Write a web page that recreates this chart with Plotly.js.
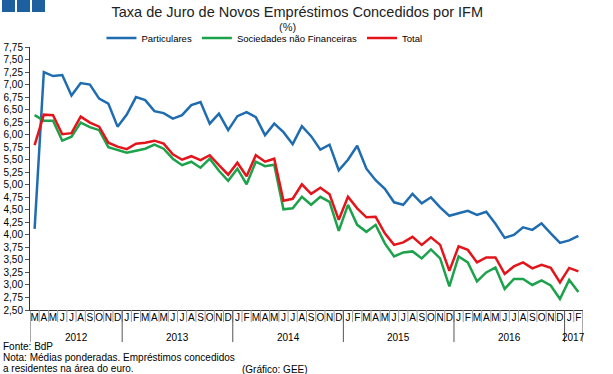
<!DOCTYPE html>
<html>
<head>
<meta charset="utf-8">
<script src="https://cdn.plot.ly/plotly-3.0.1.min.js"></script>
<style>
  html, body { margin:0; padding:0; background:#fff; }
  #wrap { position:relative; width:613px; height:374px; }
  #chart { position:absolute; left:0; top:0; width:613px; height:374px; }
  .sq { position:absolute; top:0; width:13px; height:12px; background:#1d5f9f; }
  .foot { position:absolute; font-family:"Liberation Sans", Arial, sans-serif; font-size:10px; color:#000; white-space:nowrap; }
</style>
</head>
<body>
<div id="wrap">
  <div id="chart"></div>
  <div class="sq" style="left:2px"></div>
  <div class="sq" style="left:17px"></div>
  <div class="sq" style="left:32px"></div>
  <div class="foot" style="left:3px; top:341px;">Fonte: BdP</div>
  <div class="foot" style="left:3px; top:352px;">Nota: Médias ponderadas. Empréstimos concedidos</div>
  <div class="foot" style="left:3px; top:363px;">a residentes na área do euro.</div>
  <div class="foot" style="left:242px; top:364px;">(Gráfico: GEE)</div>
</div>
<script>
// Months Mar 2012 .. Feb 2017
const years = [
  "2012","2012","2012","2012","2012","2012","2012","2012","2012","2012",
  "2013","2013","2013","2013","2013","2013","2013","2013","2013","2013","2013","2013",
  "2014","2014","2014","2014","2014","2014","2014","2014","2014","2014","2014","2014",
  "2015","2015","2015","2015","2015","2015","2015","2015","2015","2015","2015","2015",
  "2016","2016","2016","2016","2016","2016","2016","2016","2016","2016","2016","2016",
  "2017","2017"
];
const months = [
  "M","A","M","J","J","A","S","O","N","D",
  "J","F","M","A","M","J","J","A","S","O","N","D",
  "J","F","M","A","M","J","J","A","S","O","N","D",
  "J","F","M","A","M","J","J","A","S","O","N","D",
  "J","F","M","A","M","J","J","A","S","O","N","D",
  "J","F"
];

const particulares = [
  4.12,7.25,7.17,7.19,6.78,7.03,7.00,6.72,6.62,6.16,
  6.40,6.75,6.69,6.47,6.43,6.32,6.39,6.59,6.65,6.22,6.42,6.09,
  6.37,6.45,6.35,5.99,6.22,6.05,5.81,6.17,5.97,5.70,5.80,5.29,
  5.50,5.78,5.32,5.09,4.92,4.65,4.60,4.82,4.63,4.75,4.55,4.38,
  4.43,4.48,4.40,4.46,4.22,3.94,4.00,4.15,4.10,4.23,4.03,3.84,
  3.89,3.98
];
const sociedades = [
  6.39,6.28,6.28,5.88,5.96,6.24,6.15,6.09,5.75,5.70,
  5.64,5.68,5.72,5.80,5.72,5.52,5.39,5.46,5.34,5.52,5.28,5.08,
  5.32,5.01,5.46,5.37,5.40,4.51,4.53,4.76,4.60,4.76,4.66,4.08,
  4.60,4.20,4.06,4.20,3.83,3.57,3.65,3.67,3.53,3.71,3.53,2.97,
  3.57,3.45,3.07,3.25,3.35,2.92,3.12,3.12,3.00,3.09,2.99,2.72,
  3.10,2.86
];
const total = [
  5.79,6.40,6.39,6.01,6.03,6.36,6.24,6.16,5.84,5.76,
  5.71,5.82,5.84,5.88,5.82,5.61,5.50,5.57,5.49,5.59,5.39,5.20,
  5.44,5.17,5.59,5.46,5.52,4.68,4.72,5.01,4.82,4.94,4.81,4.30,
  4.76,4.53,4.35,4.36,4.03,3.80,3.85,3.96,3.80,3.95,3.80,3.28,
  3.77,3.70,3.45,3.55,3.55,3.22,3.37,3.45,3.33,3.40,3.34,3.05,
  3.34,3.27
];

// unique category keys, shown as month letters
const cats = years.map((y, i) => y + "-" + String(i).padStart(2, "0"));

const traces = [
  {x:cats, y:particulares, name:"Particulares", type:"scatter", mode:"lines",
   line:{color:"#1f6db0", width:2.5}},
  {x:cats, y:sociedades, name:"Sociedades não Financeiras", type:"scatter", mode:"lines",
   line:{color:"#1da24c", width:2.5}},
  {x:cats, y:total, name:"Total", type:"scatter", mode:"lines",
   line:{color:"#e3151b", width:2.5}}
];

// year groups -> label positions and dividers (category index units)
const groups = [];
years.forEach((y, i) => {
  const g = groups[groups.length - 1];
  if (g && g.year === y) g.end = i; else groups.push({year:y, start:i, end:i});
});
const FONT = "Liberation Sans, Arial, sans-serif";
const yearAnnotations = groups.map(g => ({
  text:g.year, xref:"x", yref:"paper", x:(g.start + g.end) / 2, y:-0.106,
  xanchor:"center", yanchor:"middle", showarrow:false,
  font:{family:FONT, size:10, color:"#000"}
}));
const bounds = [groups[0].start - 0.5].concat(groups.map(g => g.end + 0.5));
const dividers = bounds.map(b => ({
  type:"line", xref:"x", yref:"paper", x0:b, x1:b, y0:0, y1:-0.122,
  line:{color:"#555", width:1}
}));
// month separators between categories
const monthSeps = cats.slice(1).map((c, i) => ({
  type:"line", xref:"x", yref:"paper", x0:i + 0.5, x1:i + 0.5, y0:0, y1:-0.046,
  line:{color:"#9a9a9a", width:1}
}));

const layout = {
  width:613, height:374,
  margin:{l:30, r:30, t:47, b:64},
  paper_bgcolor:"rgba(0,0,0,0)", plot_bgcolor:"#fff",
  separators:", ",
  font:{family:FONT, size:10, color:"#000"},
  title:{text:"Taxa de Juro de Novos Empréstimos Concedidos por IFM",
         x:0.485, xanchor:"center", y:0.968, yanchor:"middle",
         font:{family:FONT, size:14.5, color:"#222"}},
  showlegend:true,
  legend:{orientation:"h", x:0.424, xanchor:"center", y:1.034, yanchor:"middle",
          font:{family:FONT, size:9.5}, itemwidth:30, tracegroupgap:0,
          bgcolor:"rgba(0,0,0,0)"},
  annotations:[{text:"(%)", xref:"paper", yref:"paper", x:0.466, y:1.075,
                xanchor:"center", yanchor:"middle", showarrow:false,
                font:{family:FONT, size:11, color:"#222"}}].concat(yearAnnotations),
  shapes:monthSeps.concat(dividers),
  xaxis:{type:"category", range:[-0.5, cats.length - 0.5],
         tickmode:"array", tickvals:cats, ticktext:months,
         showline:true, linecolor:"#333", linewidth:1,
         ticks:"", tickangle:0, ticklabelstandoff:-2,
         tickfont:{family:FONT, size:10},
         showgrid:false, zeroline:false},
  yaxis:{range:[2.5,7.75], dtick:0.25, tick0:2.5, tickformat:".2f",
         showline:true, linecolor:"#333", ticks:"outside", ticklen:4, tickcolor:"#555",
         showgrid:false, zeroline:false, tickfont:{family:FONT, size:10}},
  yaxis2:{range:[2.5,7.75], dtick:0.25, tick0:2.5, tickformat:".2f",
          overlaying:"y", side:"right", anchor:"x",
          showline:true, linecolor:"#333", ticks:"outside", ticklen:4, tickcolor:"#555",
          showgrid:false, zeroline:false, tickfont:{family:FONT, size:10}}
};

Plotly.newPlot("chart", traces, layout, {displayModeBar:false, staticPlot:true});
</script>
</body>
</html>
